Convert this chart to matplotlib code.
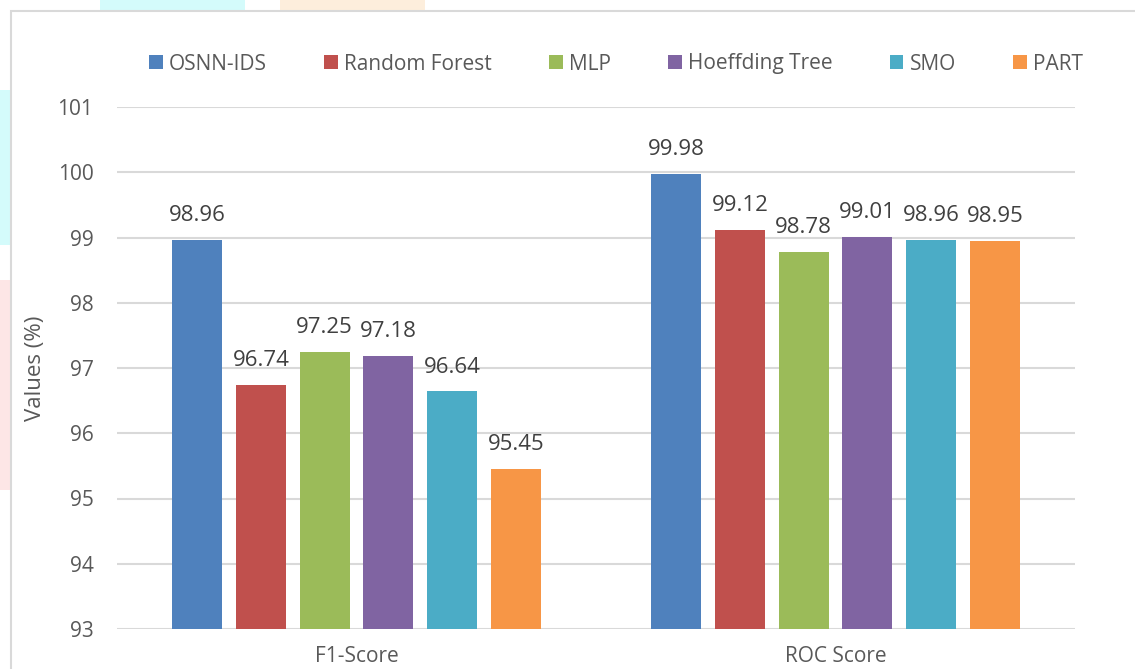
import matplotlib
matplotlib.use("Agg")
import matplotlib.pyplot as plt
from matplotlib.patches import Rectangle, Patch
import numpy as np

plt.rcParams['font.family'] = ['Open Sans', 'DejaVu Sans']

categories = ["F1-Score", "ROC Score"]
models = ["OSNN-IDS", "Random Forest", "MLP", "Hoeffding Tree", "SMO", "PART"]
values = {
    "OSNN-IDS":       [98.96, 99.98],
    "Random Forest":  [96.74, 99.12],
    "MLP":            [97.25, 98.78],
    "Hoeffding Tree": [97.18, 99.01],
    "SMO":            [96.64, 98.96],
    "PART":           [95.45, 98.95],
}
colors = ["#4F81BD", "#C0504D", "#9BBB59", "#8064A2", "#4BACC6", "#F79646"]
yticks = [93, 94, 95, 96, 97, 98, 99, 100, 101]

TXT = "#595959"
GRID = "#D9D9D9"

fig = plt.figure(figsize=(11.35, 6.69), dpi=100)

# faint background watermark pieces and outer frame
W, H = 1135, 669
def fx(px): return px / W
def fy(py): return 1 - py / H
for (x0, y0, x1, y1, c) in [(100, 0, 245, 11, "#D4FBFB"), (280, 0, 425, 11, "#FDEEDC"),
                            (0, 90, 10, 245, "#D4FBFB"), (0, 280, 10, 490, "#FDE6E6")]:
    fig.patches.append(Rectangle((fx(x0), fy(y1)), fx(x1 - x0), (y1 - y0) / H,
                                 transform=fig.transFigure, facecolor=c, edgecolor="none", zorder=-10))
fig.patches.append(Rectangle((fx(11), -0.1), 1.2, fy(11) + 0.1, transform=fig.transFigure,
                             facecolor="white", edgecolor=GRID, linewidth=1.5, zorder=-9))

ax = fig.add_axes([117 / W, 1 - 629 / H, (1075 - 117) / W, (629 - 107) / H])
ax.set_facecolor("none")
ax.set_zorder(5)

x = np.arange(len(categories))
step = 0.133
width = 0.1044
n = len(models)
for i, (m, c) in enumerate(zip(models, colors)):
    pos = x + (i - (n - 1) / 2) * step
    ax.bar(pos, values[m], width=width, bottom=0, color=c, label=m, zorder=3)
    for xb, v in zip(pos, values[m]):
        ax.annotate(f"{v:.2f}", (xb, v), xytext=(0, 10), textcoords="offset points",
                    ha="center", va="bottom", fontsize=16, color="#404040")

ax.set_ylim(93, 101)
ax.set_xlim(-0.5, 1.5)
ax.set_yticks(yticks)
ax.set_yticklabels([str(t) for t in yticks], fontsize=15, color=TXT)
ax.set_xticks(x)
ax.set_xticklabels(categories, fontsize=15, color=TXT)
ax.tick_params(axis="both", length=0)
ax.tick_params(axis="y", pad=17)
ax.tick_params(axis="x", pad=12)
ax.grid(axis="y", color=GRID, linewidth=1.5, zorder=0)
for s in ax.spines.values():
    s.set_visible(False)
fig.text(35 / W, 1 - 368 / H, "Values (%)", rotation=90, ha="center", va="center",
         fontsize=16, color=TXT)

handles = [Patch(facecolor=c, edgecolor="none") for c in colors]
leg = fig.legend(handles, models, loc="center", bbox_to_anchor=(616 / W, 1 - 64 / H), ncol=6,
                 frameon=False, fontsize=15, handlelength=0.65, handleheight=0.65,
                 handletextpad=0.3, columnspacing=2.75, labelcolor=TXT)

fig.savefig("out.png", dpi=100)
